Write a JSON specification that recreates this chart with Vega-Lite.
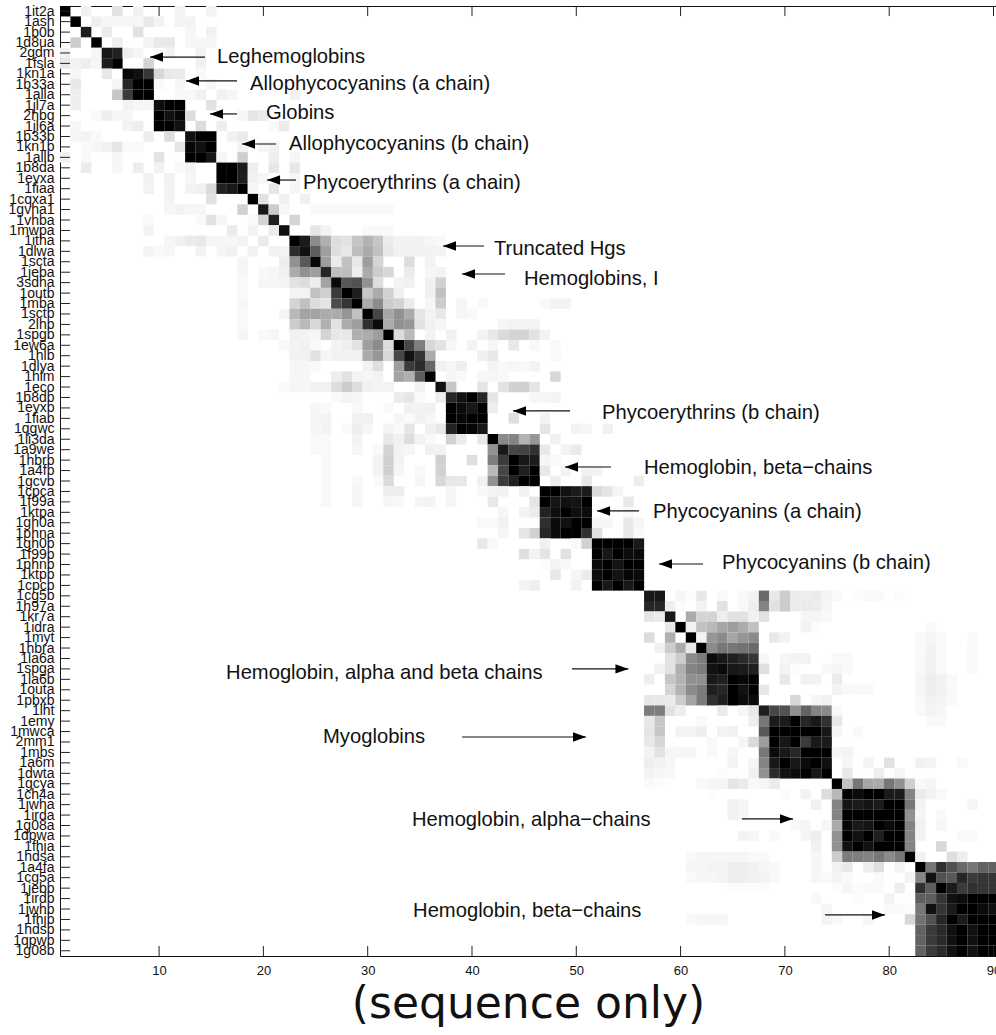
{
"$schema":"https://vega.github.io/schema/vega-lite/v6.json",
"width":936,"height":950,
"autosize":"none",
"padding":{"left":60,"top":6,"right":0,"bottom":79},
"background":"white",
"config":{"view":{"stroke":null},"axis":{"grid":false,"domainColor":"#111","tickColor":"#111","labelColor":"#111","labelFont":"Liberation Sans","zindex":1}},
"resolve":{"axis":{"x":"independent","y":"independent"}},
"layer":[
{"data":{"values":[
{"r":1,"c":1,"v":100},{"r":1,"c":3,"v":5},{"r":1,"c":6,"v":10},{"r":1,"c":8,"v":5},{"r":1,"c":12,"v":4},{"r":1,"c":15,"v":4},
{"r":2,"c":2,"v":100},{"r":2,"c":4,"v":6},{"r":2,"c":5,"v":3},{"r":2,"c":6,"v":3},{"r":2,"c":7,"v":3},{"r":2,"c":8,"v":3},{"r":2,"c":9,"v":8},{"r":2,"c":10,"v":4},{"r":2,"c":12,"v":4},{"r":2,"c":13,"v":4},
{"r":3,"c":3,"v":90},{"r":3,"c":5,"v":7},{"r":3,"c":8,"v":10},{"r":3,"c":13,"v":3},{"r":3,"c":15,"v":5},
{"r":4,"c":2,"v":18},{"r":4,"c":4,"v":100},{"r":4,"c":6,"v":6},{"r":4,"c":9,"v":4},{"r":4,"c":10,"v":8},{"r":4,"c":11,"v":8},{"r":4,"c":13,"v":3},{"r":4,"c":14,"v":3},{"r":4,"c":15,"v":3},
{"r":5,"c":1,"v":5},{"r":5,"c":4,"v":3},{"r":5,"c":5,"v":92},{"r":5,"c":6,"v":87},{"r":5,"c":7,"v":6},{"r":5,"c":8,"v":3},{"r":5,"c":11,"v":4},{"r":5,"c":14,"v":4},
{"r":6,"c":1,"v":8},{"r":6,"c":2,"v":4},{"r":6,"c":3,"v":6},{"r":6,"c":4,"v":3},{"r":6,"c":5,"v":90},{"r":6,"c":6,"v":100},{"r":6,"c":9,"v":15},{"r":6,"c":14,"v":5},
{"r":7,"c":2,"v":3},{"r":7,"c":5,"v":8},{"r":7,"c":7,"v":98},{"r":7,"c":8,"v":95},{"r":7,"c":9,"v":77},{"r":7,"c":10,"v":14},{"r":7,"c":11,"v":8},{"r":7,"c":12,"v":7},{"r":7,"c":14,"v":2},
{"r":8,"c":2,"v":8},{"r":8,"c":6,"v":3},{"r":8,"c":7,"v":85},{"r":8,"c":8,"v":100},{"r":8,"c":9,"v":100},{"r":8,"c":10,"v":2},{"r":8,"c":12,"v":3},{"r":8,"c":15,"v":3},
{"r":9,"c":2,"v":6},{"r":9,"c":6,"v":20},{"r":9,"c":7,"v":75},{"r":9,"c":8,"v":100},{"r":9,"c":9,"v":100},{"r":9,"c":12,"v":2},{"r":9,"c":13,"v":2},{"r":9,"c":14,"v":5},{"r":9,"c":16,"v":5},{"r":9,"c":17,"v":3},{"r":9,"c":23,"v":5},
{"r":10,"c":2,"v":6},{"r":10,"c":7,"v":4},{"r":10,"c":8,"v":3},{"r":10,"c":9,"v":3},{"r":10,"c":10,"v":96},{"r":10,"c":11,"v":100},{"r":10,"c":12,"v":100},{"r":10,"c":15,"v":10},
{"r":11,"c":4,"v":2},{"r":11,"c":5,"v":6},{"r":11,"c":6,"v":3},{"r":11,"c":7,"v":3},{"r":11,"c":10,"v":100},{"r":11,"c":11,"v":95},{"r":11,"c":12,"v":98},{"r":11,"c":13,"v":12},{"r":11,"c":18,"v":3},{"r":11,"c":19,"v":9},{"r":11,"c":20,"v":7},
{"r":12,"c":2,"v":3},{"r":12,"c":7,"v":4},{"r":12,"c":8,"v":6},{"r":12,"c":10,"v":100},{"r":12,"c":11,"v":100},{"r":12,"c":12,"v":95},{"r":12,"c":14,"v":12},{"r":12,"c":16,"v":6},{"r":12,"c":21,"v":2},{"r":12,"c":22,"v":7},
{"r":13,"c":2,"v":3},{"r":13,"c":3,"v":4},{"r":13,"c":4,"v":2},{"r":13,"c":9,"v":6},{"r":13,"c":11,"v":12},{"r":13,"c":13,"v":95},{"r":13,"c":14,"v":100},{"r":13,"c":15,"v":100},{"r":13,"c":17,"v":5},{"r":13,"c":18,"v":7},
{"r":14,"c":3,"v":2},{"r":14,"c":4,"v":3},{"r":14,"c":5,"v":5},{"r":14,"c":6,"v":9},{"r":14,"c":7,"v":2},{"r":14,"c":8,"v":2},{"r":14,"c":12,"v":9},{"r":14,"c":13,"v":98},{"r":14,"c":14,"v":95},{"r":14,"c":15,"v":100},{"r":14,"c":18,"v":4},{"r":14,"c":20,"v":3},{"r":14,"c":21,"v":5},
{"r":15,"c":1,"v":5},{"r":15,"c":3,"v":2},{"r":15,"c":6,"v":3},{"r":15,"c":10,"v":10},{"r":15,"c":13,"v":100},{"r":15,"c":14,"v":100},{"r":15,"c":15,"v":93},{"r":15,"c":16,"v":3},{"r":15,"c":18,"v":17},{"r":15,"c":21,"v":6},{"r":15,"c":23,"v":3},
{"r":16,"c":3,"v":7},{"r":16,"c":6,"v":3},{"r":16,"c":8,"v":6},{"r":16,"c":10,"v":5},{"r":16,"c":12,"v":2},{"r":16,"c":13,"v":4},{"r":16,"c":16,"v":100},{"r":16,"c":17,"v":100},{"r":16,"c":18,"v":90},{"r":16,"c":19,"v":6},{"r":16,"c":21,"v":8},{"r":16,"c":23,"v":8},
{"r":17,"c":9,"v":5},{"r":17,"c":11,"v":5},{"r":17,"c":13,"v":3},{"r":17,"c":16,"v":100},{"r":17,"c":17,"v":100},{"r":17,"c":18,"v":88},{"r":17,"c":19,"v":5},{"r":17,"c":20,"v":3},{"r":17,"c":23,"v":3},
{"r":18,"c":9,"v":4},{"r":18,"c":11,"v":4},{"r":18,"c":13,"v":4},{"r":18,"c":14,"v":5},{"r":18,"c":15,"v":13},{"r":18,"c":16,"v":87},{"r":18,"c":17,"v":92},{"r":18,"c":18,"v":100},{"r":18,"c":19,"v":3},{"r":18,"c":21,"v":9},{"r":18,"c":23,"v":3},
{"r":19,"c":11,"v":4},{"r":19,"c":15,"v":10},{"r":19,"c":19,"v":100},{"r":19,"c":20,"v":10},{"r":19,"c":22,"v":5},{"r":19,"c":24,"v":5},
{"r":20,"c":11,"v":3},{"r":20,"c":12,"v":4},{"r":20,"c":13,"v":3},{"r":20,"c":14,"v":3},{"r":20,"c":18,"v":16},{"r":20,"c":20,"v":92},{"r":20,"c":21,"v":18},{"r":20,"c":22,"v":3},{"r":20,"c":25,"v":2},{"r":20,"c":26,"v":2},{"r":20,"c":27,"v":2},{"r":20,"c":28,"v":2},{"r":20,"c":29,"v":2},{"r":20,"c":30,"v":2},{"r":20,"c":31,"v":2},{"r":20,"c":32,"v":2},
{"r":21,"c":9,"v":2},{"r":21,"c":14,"v":2},{"r":21,"c":15,"v":10},{"r":21,"c":16,"v":3},{"r":21,"c":19,"v":2},{"r":21,"c":20,"v":15},{"r":21,"c":21,"v":88},{"r":21,"c":23,"v":15},
{"r":22,"c":9,"v":4},{"r":22,"c":17,"v":7},{"r":22,"c":19,"v":4},{"r":22,"c":21,"v":7},{"r":22,"c":22,"v":95},{"r":22,"c":25,"v":9},{"r":22,"c":26,"v":4},{"r":22,"c":30,"v":2},{"r":22,"c":31,"v":2},{"r":22,"c":32,"v":2},
{"r":23,"c":11,"v":3},{"r":23,"c":12,"v":5},{"r":23,"c":13,"v":7},{"r":23,"c":14,"v":8},{"r":23,"c":15,"v":3},{"r":23,"c":16,"v":3},{"r":23,"c":17,"v":3},{"r":23,"c":18,"v":4},{"r":23,"c":20,"v":7},
{"r":23,"c":23,"v":100},{"r":23,"c":24,"v":90},{"r":23,"c":25,"v":42},{"r":23,"c":26,"v":28},{"r":23,"c":27,"v":12},{"r":23,"c":28,"v":10},{"r":23,"c":29,"v":20},{"r":23,"c":30,"v":27},{"r":23,"c":31,"v":20},{"r":23,"c":32,"v":7},{"r":23,"c":33,"v":4},{"r":23,"c":34,"v":4},{"r":23,"c":35,"v":4},{"r":23,"c":36,"v":3},{"r":23,"c":37,"v":2},
{"r":24,"c":9,"v":4},{"r":24,"c":10,"v":2},{"r":24,"c":11,"v":3},{"r":24,"c":14,"v":4},{"r":24,"c":16,"v":3},{"r":24,"c":17,"v":5},{"r":24,"c":19,"v":5},{"r":24,"c":21,"v":5},{"r":24,"c":22,"v":4},{"r":24,"c":23,"v":82},{"r":24,"c":24,"v":95},{"r":24,"c":25,"v":60},{"r":24,"c":26,"v":35},{"r":24,"c":27,"v":12},{"r":24,"c":28,"v":8},{"r":24,"c":29,"v":23},{"r":24,"c":30,"v":30},{"r":24,"c":31,"v":22},{"r":24,"c":32,"v":8},{"r":24,"c":33,"v":5},{"r":24,"c":34,"v":5},{"r":24,"c":35,"v":5},{"r":24,"c":36,"v":4},{"r":24,"c":37,"v":4},
{"r":25,"c":18,"v":3},{"r":25,"c":22,"v":6},{"r":25,"c":23,"v":40},{"r":25,"c":24,"v":62},{"r":25,"c":25,"v":98},{"r":25,"c":26,"v":35},{"r":25,"c":27,"v":7},{"r":25,"c":28,"v":22},{"r":25,"c":29,"v":8},{"r":25,"c":30,"v":35},{"r":25,"c":31,"v":15},{"r":25,"c":34,"v":12},{"r":25,"c":36,"v":4},
{"r":26,"c":18,"v":3},{"r":26,"c":20,"v":2},{"r":26,"c":21,"v":3},{"r":26,"c":22,"v":5},{"r":26,"c":23,"v":30},{"r":26,"c":24,"v":40},{"r":26,"c":25,"v":35},{"r":26,"c":26,"v":85},{"r":26,"c":27,"v":23},{"r":26,"c":28,"v":23},{"r":26,"c":29,"v":6},{"r":26,"c":30,"v":30},{"r":26,"c":31,"v":18},{"r":26,"c":32,"v":14},{"r":26,"c":34,"v":7},{"r":26,"c":36,"v":3},{"r":26,"c":37,"v":4},
{"r":27,"c":18,"v":2},{"r":27,"c":20,"v":3},{"r":27,"c":21,"v":3},{"r":27,"c":22,"v":4},{"r":27,"c":23,"v":10},{"r":27,"c":24,"v":12},{"r":27,"c":25,"v":6},{"r":27,"c":26,"v":33},{"r":27,"c":27,"v":97},{"r":27,"c":28,"v":62},{"r":27,"c":29,"v":65},{"r":27,"c":30,"v":40},{"r":27,"c":31,"v":12},{"r":27,"c":33,"v":4},{"r":27,"c":34,"v":5},{"r":27,"c":36,"v":5},{"r":27,"c":37,"v":16},
{"r":28,"c":18,"v":2},{"r":28,"c":23,"v":4},{"r":28,"c":24,"v":4},{"r":28,"c":25,"v":22},{"r":28,"c":26,"v":16},{"r":28,"c":27,"v":75},{"r":28,"c":28,"v":100},{"r":28,"c":29,"v":88},{"r":28,"c":30,"v":20},{"r":28,"c":31,"v":30},{"r":28,"c":32,"v":16},{"r":28,"c":33,"v":5},{"r":28,"c":36,"v":5},{"r":28,"c":37,"v":22},
{"r":29,"c":18,"v":3},{"r":29,"c":23,"v":15},{"r":29,"c":24,"v":22},{"r":29,"c":25,"v":12},{"r":29,"c":26,"v":9},{"r":29,"c":27,"v":68},{"r":29,"c":28,"v":78},{"r":29,"c":29,"v":100},{"r":29,"c":30,"v":30},{"r":29,"c":31,"v":42},{"r":29,"c":32,"v":18},{"r":29,"c":33,"v":15},{"r":29,"c":34,"v":7},{"r":29,"c":36,"v":3},{"r":29,"c":37,"v":18},{"r":29,"c":39,"v":3},{"r":29,"c":41,"v":2},{"r":29,"c":47,"v":2},{"r":29,"c":48,"v":4},{"r":29,"c":49,"v":4},
{"r":30,"c":18,"v":2},{"r":30,"c":22,"v":3},{"r":30,"c":23,"v":25},{"r":30,"c":24,"v":33},{"r":30,"c":25,"v":33},{"r":30,"c":26,"v":30},{"r":30,"c":27,"v":30},{"r":30,"c":28,"v":38},{"r":30,"c":29,"v":22},{"r":30,"c":30,"v":100},{"r":30,"c":31,"v":70},{"r":30,"c":32,"v":32},{"r":30,"c":33,"v":40},{"r":30,"c":34,"v":30},{"r":30,"c":35,"v":9},{"r":30,"c":36,"v":4},{"r":30,"c":37,"v":8},{"r":30,"c":39,"v":3},{"r":30,"c":40,"v":2},
{"r":31,"c":18,"v":2},{"r":31,"c":23,"v":18},{"r":31,"c":24,"v":25},{"r":31,"c":25,"v":14},{"r":31,"c":26,"v":28},{"r":31,"c":27,"v":10},{"r":31,"c":28,"v":30},{"r":31,"c":29,"v":35},{"r":31,"c":30,"v":80},{"r":31,"c":31,"v":97},{"r":31,"c":32,"v":30},{"r":31,"c":33,"v":40},{"r":31,"c":34,"v":38},{"r":31,"c":35,"v":10},{"r":31,"c":36,"v":5},{"r":31,"c":37,"v":3},{"r":31,"c":43,"v":3},{"r":31,"c":44,"v":4},{"r":31,"c":45,"v":4},{"r":31,"c":46,"v":4},
{"r":32,"c":18,"v":3},{"r":32,"c":20,"v":2},{"r":32,"c":21,"v":3},{"r":32,"c":23,"v":5},{"r":32,"c":24,"v":4},{"r":32,"c":25,"v":3},{"r":32,"c":26,"v":15},{"r":32,"c":27,"v":8},{"r":32,"c":28,"v":8},{"r":32,"c":29,"v":28},{"r":32,"c":30,"v":30},{"r":32,"c":31,"v":35},{"r":32,"c":32,"v":100},{"r":32,"c":33,"v":12},{"r":32,"c":34,"v":24},{"r":32,"c":36,"v":4},{"r":32,"c":38,"v":5},{"r":32,"c":41,"v":4},{"r":32,"c":42,"v":8},{"r":32,"c":43,"v":13},{"r":32,"c":44,"v":15},{"r":32,"c":45,"v":15},{"r":32,"c":46,"v":10},{"r":32,"c":47,"v":4},
{"r":33,"c":22,"v":2},{"r":33,"c":23,"v":4},{"r":33,"c":24,"v":5},{"r":33,"c":25,"v":2},{"r":33,"c":27,"v":4},{"r":33,"c":28,"v":6},{"r":33,"c":29,"v":10},{"r":33,"c":30,"v":35},{"r":33,"c":31,"v":42},{"r":33,"c":32,"v":12},{"r":33,"c":33,"v":100},{"r":33,"c":34,"v":70},{"r":33,"c":35,"v":47},{"r":33,"c":36,"v":14},{"r":33,"c":37,"v":10},{"r":33,"c":38,"v":3},{"r":33,"c":40,"v":4},{"r":33,"c":42,"v":3},{"r":33,"c":44,"v":8},{"r":33,"c":46,"v":2},{"r":33,"c":48,"v":2},
{"r":34,"c":23,"v":5},{"r":34,"c":24,"v":5},{"r":34,"c":25,"v":10},{"r":34,"c":26,"v":3},{"r":34,"c":27,"v":5},{"r":34,"c":28,"v":5},{"r":34,"c":29,"v":5},{"r":34,"c":30,"v":30},{"r":34,"c":31,"v":38},{"r":34,"c":32,"v":14},{"r":34,"c":33,"v":70},{"r":34,"c":34,"v":95},{"r":34,"c":35,"v":78},{"r":34,"c":36,"v":30},{"r":34,"c":41,"v":5},{"r":34,"c":42,"v":8},{"r":34,"c":48,"v":2},
{"r":35,"c":23,"v":3},{"r":35,"c":24,"v":3},{"r":35,"c":25,"v":2},{"r":35,"c":30,"v":5},{"r":35,"c":31,"v":11},{"r":35,"c":33,"v":35},{"r":35,"c":34,"v":75},{"r":35,"c":35,"v":82},{"r":35,"c":36,"v":57},{"r":35,"c":37,"v":5},{"r":35,"c":38,"v":3},{"r":35,"c":39,"v":6},{"r":35,"c":42,"v":4},{"r":35,"c":43,"v":2},{"r":35,"c":44,"v":3},{"r":35,"c":45,"v":2},{"r":35,"c":46,"v":4},
{"r":36,"c":23,"v":3},{"r":36,"c":24,"v":3},{"r":36,"c":27,"v":6},{"r":36,"c":28,"v":10},{"r":36,"c":29,"v":4},{"r":36,"c":30,"v":3},{"r":36,"c":31,"v":4},{"r":36,"c":33,"v":33},{"r":36,"c":34,"v":28},{"r":36,"c":35,"v":60},{"r":36,"c":36,"v":100},{"r":36,"c":38,"v":3},{"r":36,"c":39,"v":2},{"r":36,"c":41,"v":3},{"r":36,"c":42,"v":3},{"r":36,"c":43,"v":2},{"r":36,"c":48,"v":14},
{"r":37,"c":22,"v":2},{"r":37,"c":23,"v":3},{"r":37,"c":24,"v":3},{"r":37,"c":25,"v":5},{"r":37,"c":26,"v":5},{"r":37,"c":27,"v":12},{"r":37,"c":28,"v":18},{"r":37,"c":29,"v":12},{"r":37,"c":30,"v":5},{"r":37,"c":31,"v":4},{"r":37,"c":32,"v":4},{"r":37,"c":35,"v":5},{"r":37,"c":37,"v":95},{"r":37,"c":38,"v":20},{"r":37,"c":41,"v":9},{"r":37,"c":43,"v":10},{"r":37,"c":44,"v":16},{"r":37,"c":45,"v":17},{"r":37,"c":46,"v":9},
{"r":38,"c":27,"v":2},{"r":38,"c":28,"v":4},{"r":38,"c":29,"v":3},{"r":38,"c":33,"v":7},{"r":38,"c":34,"v":9},{"r":38,"c":35,"v":2},{"r":38,"c":37,"v":6},{"r":38,"c":38,"v":85},{"r":38,"c":39,"v":95},{"r":38,"c":40,"v":100},{"r":38,"c":41,"v":85},{"r":38,"c":42,"v":9},{"r":38,"c":46,"v":3},{"r":38,"c":47,"v":3},{"r":38,"c":48,"v":4},
{"r":39,"c":25,"v":3},{"r":39,"c":26,"v":2},{"r":39,"c":29,"v":2},{"r":39,"c":32,"v":2},{"r":39,"c":34,"v":5},{"r":39,"c":35,"v":4},{"r":39,"c":36,"v":5},{"r":39,"c":38,"v":100},{"r":39,"c":39,"v":97},{"r":39,"c":40,"v":92},{"r":39,"c":41,"v":100},{"r":39,"c":42,"v":6},
{"r":40,"c":25,"v":3},{"r":40,"c":26,"v":4},{"r":40,"c":29,"v":5},{"r":40,"c":30,"v":5},{"r":40,"c":33,"v":3},{"r":40,"c":34,"v":2},{"r":40,"c":35,"v":5},{"r":40,"c":36,"v":3},{"r":40,"c":38,"v":100},{"r":40,"c":39,"v":98},{"r":40,"c":40,"v":100},{"r":40,"c":41,"v":100},{"r":40,"c":44,"v":11},{"r":40,"c":47,"v":4},
{"r":41,"c":25,"v":3},{"r":41,"c":26,"v":4},{"r":41,"c":28,"v":2},{"r":41,"c":29,"v":6},{"r":41,"c":30,"v":3},{"r":41,"c":32,"v":4},{"r":41,"c":33,"v":2},{"r":41,"c":34,"v":9},{"r":41,"c":36,"v":5},{"r":41,"c":37,"v":8},{"r":41,"c":38,"v":87},{"r":41,"c":39,"v":100},{"r":41,"c":40,"v":98},{"r":41,"c":41,"v":92},{"r":41,"c":47,"v":9},{"r":41,"c":50,"v":4},{"r":41,"c":51,"v":3},{"r":41,"c":53,"v":5},
{"r":42,"c":25,"v":2},{"r":42,"c":26,"v":2},{"r":42,"c":29,"v":4},{"r":42,"c":32,"v":8},{"r":42,"c":33,"v":5},{"r":42,"c":34,"v":12},{"r":42,"c":35,"v":4},{"r":42,"c":36,"v":2},{"r":42,"c":38,"v":16},{"r":42,"c":39,"v":7},{"r":42,"c":41,"v":8},{"r":42,"c":42,"v":100},{"r":42,"c":43,"v":43},{"r":42,"c":44,"v":45},{"r":42,"c":45,"v":27},{"r":42,"c":46,"v":38},{"r":42,"c":48,"v":5},
{"r":43,"c":25,"v":2},{"r":43,"c":26,"v":2},{"r":43,"c":29,"v":3},{"r":43,"c":31,"v":2},{"r":43,"c":32,"v":15},{"r":43,"c":33,"v":4},{"r":43,"c":34,"v":3},{"r":43,"c":36,"v":5},{"r":43,"c":37,"v":4},{"r":43,"c":42,"v":40},{"r":43,"c":43,"v":92},{"r":43,"c":44,"v":70},{"r":43,"c":45,"v":72},{"r":43,"c":46,"v":80},{"r":43,"c":47,"v":8},{"r":43,"c":49,"v":4},{"r":43,"c":50,"v":7},
{"r":44,"c":26,"v":2},{"r":44,"c":31,"v":4},{"r":44,"c":32,"v":17},{"r":44,"c":33,"v":4},{"r":44,"c":37,"v":16},{"r":44,"c":40,"v":11},{"r":44,"c":42,"v":47},{"r":44,"c":43,"v":75},{"r":44,"c":44,"v":100},{"r":44,"c":45,"v":92},{"r":44,"c":46,"v":90},{"r":44,"c":47,"v":3},{"r":44,"c":48,"v":2},
{"r":45,"c":26,"v":2},{"r":45,"c":31,"v":4},{"r":45,"c":32,"v":17},{"r":45,"c":33,"v":3},{"r":45,"c":35,"v":2},{"r":45,"c":37,"v":16},{"r":45,"c":42,"v":25},{"r":45,"c":43,"v":70},{"r":45,"c":44,"v":100},{"r":45,"c":45,"v":88},{"r":45,"c":46,"v":100},{"r":45,"c":47,"v":8},{"r":45,"c":49,"v":4},{"r":45,"c":51,"v":5},{"r":45,"c":52,"v":4},
{"r":46,"c":26,"v":2},{"r":46,"c":29,"v":2},{"r":46,"c":31,"v":2},{"r":46,"c":32,"v":13},{"r":46,"c":35,"v":3},{"r":46,"c":37,"v":14},{"r":46,"c":38,"v":8},{"r":46,"c":39,"v":8},{"r":46,"c":41,"v":5},{"r":46,"c":42,"v":40},{"r":46,"c":43,"v":75},{"r":46,"c":44,"v":88},{"r":46,"c":45,"v":100},{"r":46,"c":46,"v":100},{"r":46,"c":48,"v":6},{"r":46,"c":51,"v":8},{"r":46,"c":56,"v":6},
{"r":47,"c":26,"v":2},{"r":47,"c":29,"v":3},{"r":47,"c":32,"v":6},{"r":47,"c":33,"v":6},{"r":47,"c":38,"v":3},{"r":47,"c":41,"v":2},{"r":47,"c":42,"v":4},{"r":47,"c":43,"v":5},{"r":47,"c":45,"v":5},{"r":47,"c":47,"v":100},{"r":47,"c":48,"v":100},{"r":47,"c":49,"v":95},{"r":47,"c":50,"v":90},{"r":47,"c":51,"v":90},{"r":47,"c":52,"v":13},{"r":47,"c":53,"v":9},{"r":47,"c":54,"v":3},
{"r":48,"c":26,"v":2},{"r":48,"c":29,"v":3},{"r":48,"c":32,"v":3},{"r":48,"c":33,"v":2},{"r":48,"c":35,"v":3},{"r":48,"c":36,"v":4},{"r":48,"c":38,"v":3},{"r":48,"c":42,"v":8},{"r":48,"c":46,"v":9},{"r":48,"c":47,"v":100},{"r":48,"c":48,"v":93},{"r":48,"c":49,"v":95},{"r":48,"c":50,"v":94},{"r":48,"c":51,"v":100},{"r":48,"c":55,"v":8},
{"r":49,"c":43,"v":3},{"r":49,"c":45,"v":4},{"r":49,"c":46,"v":7},{"r":49,"c":47,"v":87},{"r":49,"c":48,"v":96},{"r":49,"c":49,"v":100},{"r":49,"c":50,"v":96},{"r":49,"c":51,"v":97},{"r":49,"c":55,"v":2},
{"r":50,"c":41,"v":2},{"r":50,"c":42,"v":2},{"r":50,"c":43,"v":5},{"r":50,"c":47,"v":80},{"r":50,"c":48,"v":97},{"r":50,"c":49,"v":95},{"r":50,"c":50,"v":100},{"r":50,"c":51,"v":100},{"r":50,"c":52,"v":3},{"r":50,"c":53,"v":3},{"r":50,"c":55,"v":8},{"r":50,"c":56,"v":3},
{"r":51,"c":43,"v":3},{"r":51,"c":45,"v":9},{"r":51,"c":46,"v":16},{"r":51,"c":47,"v":85},{"r":51,"c":48,"v":97},{"r":51,"c":49,"v":100},{"r":51,"c":50,"v":100},{"r":51,"c":51,"v":80},{"r":51,"c":52,"v":11},{"r":51,"c":55,"v":8},{"r":51,"c":56,"v":2},
{"r":52,"c":41,"v":8},{"r":52,"c":42,"v":2},{"r":52,"c":47,"v":5},{"r":52,"c":50,"v":2},{"r":52,"c":51,"v":16},{"r":52,"c":52,"v":100},{"r":52,"c":53,"v":100},{"r":52,"c":54,"v":100},{"r":52,"c":55,"v":100},{"r":52,"c":56,"v":92},
{"r":53,"c":45,"v":11},{"r":53,"c":46,"v":4},{"r":53,"c":47,"v":9},{"r":53,"c":49,"v":10},{"r":53,"c":52,"v":100},{"r":53,"c":53,"v":92},{"r":53,"c":54,"v":100},{"r":53,"c":55,"v":97},{"r":53,"c":56,"v":97},
{"r":54,"c":47,"v":1},{"r":54,"c":48,"v":4},{"r":54,"c":49,"v":2},{"r":54,"c":52,"v":97},{"r":54,"c":53,"v":100},{"r":54,"c":54,"v":94},{"r":54,"c":55,"v":100},{"r":54,"c":56,"v":100},
{"r":55,"c":48,"v":8},{"r":55,"c":50,"v":3},{"r":55,"c":51,"v":7},{"r":55,"c":52,"v":97},{"r":55,"c":53,"v":100},{"r":55,"c":54,"v":94},{"r":55,"c":55,"v":98},{"r":55,"c":56,"v":97},
{"r":56,"c":45,"v":4},{"r":56,"c":46,"v":6},{"r":56,"c":50,"v":4},{"r":56,"c":52,"v":100},{"r":56,"c":53,"v":92},{"r":56,"c":54,"v":100},{"r":56,"c":55,"v":92},{"r":56,"c":56,"v":100},
{"r":57,"c":57,"v":92},{"r":57,"c":58,"v":92},{"r":57,"c":60,"v":3},{"r":57,"c":61,"v":1},{"r":57,"c":62,"v":8},{"r":57,"c":64,"v":2},{"r":57,"c":66,"v":2},{"r":57,"c":67,"v":4},{"r":57,"c":68,"v":55},{"r":57,"c":69,"v":8},{"r":57,"c":70,"v":18},{"r":57,"c":71,"v":7},{"r":57,"c":72,"v":6},{"r":57,"c":73,"v":7},{"r":57,"c":74,"v":4},{"r":57,"c":75,"v":2},{"r":57,"c":77,"v":1},{"r":57,"c":78,"v":2},{"r":57,"c":79,"v":2},{"r":57,"c":81,"v":1},
{"r":58,"c":57,"v":85},{"r":58,"c":58,"v":85},{"r":58,"c":59,"v":6},{"r":58,"c":60,"v":1},{"r":58,"c":62,"v":4},{"r":58,"c":64,"v":10},{"r":58,"c":66,"v":2},{"r":58,"c":67,"v":6},{"r":58,"c":68,"v":45},{"r":58,"c":69,"v":10},{"r":58,"c":70,"v":18},{"r":58,"c":71,"v":7},{"r":58,"c":72,"v":7},{"r":58,"c":73,"v":6},{"r":58,"c":74,"v":3},
{"r":59,"c":57,"v":9},{"r":59,"c":58,"v":7},{"r":59,"c":59,"v":92},{"r":59,"c":61,"v":30},{"r":59,"c":62,"v":15},{"r":59,"c":63,"v":15},{"r":59,"c":64,"v":6},{"r":59,"c":65,"v":10},{"r":59,"c":66,"v":10},{"r":59,"c":67,"v":5},{"r":59,"c":68,"v":10},{"r":59,"c":72,"v":3},{"r":59,"c":73,"v":3},{"r":59,"c":74,"v":2},
{"r":60,"c":59,"v":8},{"r":60,"c":60,"v":100},{"r":60,"c":61,"v":5},{"r":60,"c":62,"v":22},{"r":60,"c":63,"v":25},{"r":60,"c":64,"v":32},{"r":60,"c":65,"v":35},{"r":60,"c":66,"v":30},{"r":60,"c":67,"v":22},{"r":60,"c":72,"v":4},{"r":60,"c":73,"v":1},{"r":60,"c":84,"v":2},
{"r":61,"c":57,"v":12},{"r":61,"c":59,"v":28},{"r":61,"c":61,"v":100},{"r":61,"c":62,"v":4},{"r":61,"c":63,"v":38},{"r":61,"c":64,"v":42},{"r":61,"c":65,"v":32},{"r":61,"c":66,"v":38},{"r":61,"c":67,"v":42},{"r":61,"c":69,"v":8},{"r":61,"c":70,"v":4},{"r":61,"c":83,"v":2},{"r":61,"c":84,"v":3},{"r":61,"c":85,"v":2},{"r":61,"c":88,"v":2},
{"r":62,"c":58,"v":5},{"r":62,"c":59,"v":18},{"r":62,"c":60,"v":30},{"r":62,"c":61,"v":8},{"r":62,"c":62,"v":100},{"r":62,"c":63,"v":42},{"r":62,"c":64,"v":50},{"r":62,"c":65,"v":50},{"r":62,"c":66,"v":52},{"r":62,"c":67,"v":55},{"r":62,"c":83,"v":2},{"r":62,"c":84,"v":4},{"r":62,"c":85,"v":2},{"r":62,"c":88,"v":2},
{"r":63,"c":59,"v":10},{"r":63,"c":60,"v":18},{"r":63,"c":61,"v":42},{"r":63,"c":62,"v":48},{"r":63,"c":63,"v":97},{"r":63,"c":64,"v":92},{"r":63,"c":65,"v":88},{"r":63,"c":66,"v":83},{"r":63,"c":67,"v":78},{"r":63,"c":68,"v":3},{"r":63,"c":70,"v":3},{"r":63,"c":71,"v":4},{"r":63,"c":72,"v":4},{"r":63,"c":75,"v":2},{"r":63,"c":76,"v":2},{"r":63,"c":83,"v":2},{"r":63,"c":84,"v":5},{"r":63,"c":85,"v":2},{"r":63,"c":88,"v":2},
{"r":64,"c":58,"v":5},{"r":64,"c":59,"v":10},{"r":64,"c":60,"v":28},{"r":64,"c":61,"v":45},{"r":64,"c":62,"v":48},{"r":64,"c":63,"v":95},{"r":64,"c":64,"v":97},{"r":64,"c":65,"v":92},{"r":64,"c":66,"v":90},{"r":64,"c":67,"v":88},{"r":64,"c":68,"v":11},{"r":64,"c":70,"v":4},{"r":64,"c":71,"v":1},{"r":64,"c":74,"v":2},{"r":64,"c":75,"v":3},{"r":64,"c":76,"v":2},{"r":64,"c":83,"v":2},{"r":64,"c":84,"v":5},{"r":64,"c":85,"v":2},{"r":64,"c":88,"v":2},
{"r":65,"c":57,"v":6},{"r":65,"c":59,"v":20},{"r":65,"c":60,"v":27},{"r":65,"c":61,"v":40},{"r":65,"c":62,"v":40},{"r":65,"c":63,"v":92},{"r":65,"c":64,"v":88},{"r":65,"c":65,"v":100},{"r":65,"c":66,"v":98},{"r":65,"c":67,"v":100},{"r":65,"c":70,"v":8},{"r":65,"c":72,"v":5},{"r":65,"c":73,"v":4},{"r":65,"c":75,"v":7},{"r":65,"c":83,"v":3},{"r":65,"c":84,"v":6},{"r":65,"c":85,"v":5},{"r":65,"c":86,"v":2},
{"r":66,"c":59,"v":15},{"r":66,"c":60,"v":27},{"r":66,"c":61,"v":42},{"r":66,"c":62,"v":48},{"r":66,"c":63,"v":88},{"r":66,"c":64,"v":85},{"r":66,"c":65,"v":100},{"r":66,"c":66,"v":95},{"r":66,"c":67,"v":100},{"r":66,"c":68,"v":8},{"r":66,"c":75,"v":4},{"r":66,"c":76,"v":2},{"r":66,"c":77,"v":2},{"r":66,"c":78,"v":2},{"r":66,"c":83,"v":3},{"r":66,"c":84,"v":6},{"r":66,"c":85,"v":5},{"r":66,"c":86,"v":2},
{"r":67,"c":57,"v":8},{"r":67,"c":58,"v":8},{"r":67,"c":59,"v":7},{"r":67,"c":60,"v":18},{"r":67,"c":61,"v":33},{"r":67,"c":62,"v":48},{"r":67,"c":63,"v":80},{"r":67,"c":64,"v":88},{"r":67,"c":65,"v":100},{"r":67,"c":66,"v":97},{"r":67,"c":67,"v":97},{"r":67,"c":71,"v":14},{"r":67,"c":73,"v":3},{"r":67,"c":74,"v":5},{"r":67,"c":83,"v":2},{"r":67,"c":84,"v":5},{"r":67,"c":85,"v":4},{"r":67,"c":86,"v":2},
{"r":68,"c":57,"v":48},{"r":68,"c":58,"v":48},{"r":68,"c":59,"v":10},{"r":68,"c":60,"v":6},{"r":68,"c":64,"v":7},{"r":68,"c":66,"v":3},{"r":68,"c":67,"v":8},{"r":68,"c":68,"v":88},{"r":68,"c":69,"v":70},{"r":68,"c":70,"v":65},{"r":68,"c":71,"v":40},{"r":68,"c":72,"v":58},{"r":68,"c":73,"v":45},{"r":68,"c":74,"v":42},{"r":68,"c":75,"v":2},{"r":68,"c":83,"v":2},{"r":68,"c":84,"v":4},{"r":68,"c":85,"v":3},
{"r":69,"c":57,"v":8},{"r":69,"c":58,"v":20},{"r":69,"c":62,"v":2},{"r":69,"c":67,"v":6},{"r":69,"c":68,"v":50},{"r":69,"c":69,"v":90},{"r":69,"c":70,"v":90},{"r":69,"c":71,"v":100},{"r":69,"c":72,"v":85},{"r":69,"c":73,"v":92},{"r":69,"c":74,"v":80},{"r":69,"c":75,"v":8},{"r":69,"c":84,"v":2},{"r":69,"c":85,"v":2},
{"r":70,"c":57,"v":9},{"r":70,"c":58,"v":20},{"r":70,"c":60,"v":4},{"r":70,"c":61,"v":4},{"r":70,"c":62,"v":6},{"r":70,"c":64,"v":4},{"r":70,"c":65,"v":5},{"r":70,"c":68,"v":62},{"r":70,"c":69,"v":100},{"r":70,"c":70,"v":100},{"r":70,"c":71,"v":100},{"r":70,"c":72,"v":100},{"r":70,"c":73,"v":100},{"r":70,"c":74,"v":92},{"r":70,"c":75,"v":3},{"r":70,"c":77,"v":2},
{"r":71,"c":57,"v":8},{"r":71,"c":58,"v":14},{"r":71,"c":63,"v":2},{"r":71,"c":66,"v":3},{"r":71,"c":67,"v":13},{"r":71,"c":68,"v":35},{"r":71,"c":69,"v":100},{"r":71,"c":70,"v":92},{"r":71,"c":71,"v":100},{"r":71,"c":72,"v":75},{"r":71,"c":73,"v":92},{"r":71,"c":74,"v":90},
{"r":72,"c":57,"v":4},{"r":72,"c":58,"v":10},{"r":72,"c":59,"v":3},{"r":72,"c":60,"v":3},{"r":72,"c":61,"v":3},{"r":72,"c":63,"v":2},{"r":72,"c":65,"v":3},{"r":72,"c":68,"v":50},{"r":72,"c":69,"v":97},{"r":72,"c":70,"v":92},{"r":72,"c":71,"v":85},{"r":72,"c":72,"v":100},{"r":72,"c":73,"v":100},{"r":72,"c":74,"v":100},{"r":72,"c":75,"v":3},{"r":72,"c":76,"v":4},
{"r":73,"c":57,"v":6},{"r":73,"c":58,"v":5},{"r":73,"c":59,"v":3},{"r":73,"c":65,"v":4},{"r":73,"c":67,"v":3},{"r":73,"c":68,"v":45},{"r":73,"c":69,"v":92},{"r":73,"c":70,"v":100},{"r":73,"c":71,"v":92},{"r":73,"c":72,"v":97},{"r":73,"c":73,"v":100},{"r":73,"c":74,"v":95},{"r":73,"c":76,"v":3},{"r":73,"c":78,"v":4},{"r":73,"c":80,"v":10},{"r":73,"c":83,"v":5},{"r":73,"c":84,"v":4},{"r":73,"c":87,"v":2},
{"r":74,"c":57,"v":4},{"r":74,"c":58,"v":3},{"r":74,"c":59,"v":2},{"r":74,"c":64,"v":1},{"r":74,"c":67,"v":5},{"r":74,"c":68,"v":40},{"r":74,"c":69,"v":82},{"r":74,"c":70,"v":95},{"r":74,"c":71,"v":97},{"r":74,"c":72,"v":100},{"r":74,"c":73,"v":92},{"r":74,"c":74,"v":100},{"r":74,"c":76,"v":8},{"r":74,"c":79,"v":6},{"r":74,"c":81,"v":3},
{"r":75,"c":57,"v":2},{"r":75,"c":58,"v":1},{"r":75,"c":62,"v":2},{"r":75,"c":63,"v":3},{"r":75,"c":64,"v":3},{"r":75,"c":65,"v":9},{"r":75,"c":66,"v":7},{"r":75,"c":67,"v":2},{"r":75,"c":68,"v":3},{"r":75,"c":69,"v":7},{"r":75,"c":75,"v":100},{"r":75,"c":76,"v":22},{"r":75,"c":77,"v":50},{"r":75,"c":78,"v":32},{"r":75,"c":79,"v":30},{"r":75,"c":80,"v":50},{"r":75,"c":81,"v":40},{"r":75,"c":82,"v":17},{"r":75,"c":83,"v":2},{"r":75,"c":84,"v":3},
{"r":76,"c":63,"v":1},{"r":76,"c":70,"v":1},{"r":76,"c":72,"v":4},{"r":76,"c":74,"v":12},{"r":76,"c":75,"v":25},{"r":76,"c":76,"v":100},{"r":76,"c":77,"v":97},{"r":76,"c":78,"v":100},{"r":76,"c":79,"v":100},{"r":76,"c":80,"v":90},{"r":76,"c":81,"v":90},{"r":76,"c":82,"v":45},{"r":76,"c":83,"v":7},{"r":76,"c":84,"v":4},{"r":76,"c":85,"v":2},
{"r":77,"c":65,"v":5},{"r":77,"c":66,"v":3},{"r":77,"c":73,"v":5},{"r":77,"c":75,"v":45},{"r":77,"c":76,"v":93},{"r":77,"c":77,"v":90},{"r":77,"c":78,"v":93},{"r":77,"c":79,"v":90},{"r":77,"c":80,"v":100},{"r":77,"c":81,"v":100},{"r":77,"c":82,"v":50},{"r":77,"c":83,"v":4},{"r":77,"c":88,"v":3},
{"r":78,"c":65,"v":5},{"r":78,"c":66,"v":3},{"r":78,"c":75,"v":45},{"r":78,"c":76,"v":100},{"r":78,"c":77,"v":100},{"r":78,"c":78,"v":100},{"r":78,"c":79,"v":100},{"r":78,"c":80,"v":100},{"r":78,"c":81,"v":100},{"r":78,"c":82,"v":40},{"r":78,"c":83,"v":3},{"r":78,"c":85,"v":2},
{"r":79,"c":71,"v":2},{"r":79,"c":72,"v":3},{"r":79,"c":74,"v":3},{"r":79,"c":75,"v":30},{"r":79,"c":76,"v":98},{"r":79,"c":77,"v":92},{"r":79,"c":78,"v":93},{"r":79,"c":79,"v":100},{"r":79,"c":80,"v":97},{"r":79,"c":81,"v":100},{"r":79,"c":82,"v":45},{"r":79,"c":83,"v":5},{"r":79,"c":85,"v":3},
{"r":80,"c":66,"v":4},{"r":80,"c":67,"v":3},{"r":80,"c":69,"v":2},{"r":80,"c":72,"v":3},{"r":80,"c":73,"v":6},{"r":80,"c":75,"v":40},{"r":80,"c":76,"v":100},{"r":80,"c":77,"v":95},{"r":80,"c":78,"v":100},{"r":80,"c":79,"v":88},{"r":80,"c":80,"v":100},{"r":80,"c":81,"v":100},{"r":80,"c":82,"v":45},{"r":80,"c":83,"v":4},{"r":80,"c":87,"v":2},{"r":80,"c":88,"v":2},
{"r":81,"c":73,"v":5},{"r":81,"c":75,"v":40},{"r":81,"c":76,"v":95},{"r":81,"c":77,"v":100},{"r":81,"c":78,"v":95},{"r":81,"c":79,"v":100},{"r":81,"c":80,"v":100},{"r":81,"c":81,"v":100},{"r":81,"c":82,"v":45},{"r":81,"c":85,"v":14},
{"r":82,"c":61,"v":2},{"r":82,"c":62,"v":3},{"r":82,"c":63,"v":3},{"r":82,"c":64,"v":3},{"r":82,"c":65,"v":3},{"r":82,"c":66,"v":3},{"r":82,"c":67,"v":2},{"r":82,"c":68,"v":2},{"r":82,"c":73,"v":3},{"r":82,"c":75,"v":18},{"r":82,"c":76,"v":48},{"r":82,"c":77,"v":47},{"r":82,"c":78,"v":45},{"r":82,"c":79,"v":50},{"r":82,"c":80,"v":42},{"r":82,"c":81,"v":50},{"r":82,"c":82,"v":100},{"r":82,"c":83,"v":5},{"r":82,"c":86,"v":11},{"r":82,"c":87,"v":6},
{"r":83,"c":61,"v":3},{"r":83,"c":62,"v":3},{"r":83,"c":63,"v":4},{"r":83,"c":64,"v":4},{"r":83,"c":65,"v":6},{"r":83,"c":66,"v":6},{"r":83,"c":67,"v":5},{"r":83,"c":68,"v":3},{"r":83,"c":69,"v":2},{"r":83,"c":73,"v":3},{"r":83,"c":75,"v":5},{"r":83,"c":76,"v":8},{"r":83,"c":78,"v":6},{"r":83,"c":79,"v":11},{"r":83,"c":81,"v":4},{"r":83,"c":83,"v":100},{"r":83,"c":84,"v":50},{"r":83,"c":85,"v":80},{"r":83,"c":86,"v":65},{"r":83,"c":87,"v":55},{"r":83,"c":88,"v":50},{"r":83,"c":89,"v":58},{"r":83,"c":90,"v":58},
{"r":84,"c":61,"v":2},{"r":84,"c":62,"v":3},{"r":84,"c":63,"v":3},{"r":84,"c":64,"v":4},{"r":84,"c":65,"v":6},{"r":84,"c":66,"v":6},{"r":84,"c":67,"v":5},{"r":84,"c":68,"v":4},{"r":84,"c":69,"v":2},{"r":84,"c":73,"v":3},{"r":84,"c":74,"v":2},{"r":84,"c":75,"v":4},{"r":84,"c":76,"v":2},{"r":84,"c":79,"v":2},{"r":84,"c":82,"v":4},{"r":84,"c":83,"v":45},{"r":84,"c":84,"v":95},{"r":84,"c":85,"v":65},{"r":84,"c":86,"v":62},{"r":84,"c":87,"v":85},{"r":84,"c":88,"v":75},{"r":84,"c":89,"v":78},{"r":84,"c":90,"v":78},
{"r":85,"c":65,"v":1},{"r":85,"c":66,"v":1},{"r":85,"c":67,"v":1},{"r":85,"c":68,"v":1},{"r":85,"c":75,"v":1},{"r":85,"c":76,"v":3},{"r":85,"c":77,"v":1},{"r":85,"c":78,"v":2},{"r":85,"c":79,"v":2},{"r":85,"c":81,"v":6},{"r":85,"c":83,"v":80},{"r":85,"c":84,"v":60},{"r":85,"c":85,"v":100},{"r":85,"c":86,"v":90},{"r":85,"c":87,"v":75},{"r":85,"c":88,"v":80},{"r":85,"c":89,"v":78},{"r":85,"c":90,"v":78},
{"r":86,"c":73,"v":2},{"r":86,"c":77,"v":1},{"r":86,"c":80,"v":4},{"r":86,"c":83,"v":60},{"r":86,"c":84,"v":60},{"r":86,"c":85,"v":78},{"r":86,"c":86,"v":95},{"r":86,"c":87,"v":97},{"r":86,"c":88,"v":100},{"r":86,"c":89,"v":100},{"r":86,"c":90,"v":100},
{"r":87,"c":74,"v":3},{"r":87,"c":80,"v":2},{"r":87,"c":81,"v":2},{"r":87,"c":82,"v":1},{"r":87,"c":83,"v":50},{"r":87,"c":84,"v":95},{"r":87,"c":85,"v":78},{"r":87,"c":86,"v":90},{"r":87,"c":87,"v":100},{"r":87,"c":88,"v":100},{"r":87,"c":89,"v":97},{"r":87,"c":90,"v":95},
{"r":88,"c":61,"v":2},{"r":88,"c":62,"v":3},{"r":88,"c":63,"v":3},{"r":88,"c":64,"v":3},{"r":88,"c":74,"v":4},{"r":88,"c":75,"v":2},{"r":88,"c":78,"v":3},{"r":88,"c":82,"v":14},{"r":88,"c":83,"v":52},{"r":88,"c":84,"v":65},{"r":88,"c":85,"v":85},{"r":88,"c":86,"v":100},{"r":88,"c":87,"v":90},{"r":88,"c":88,"v":100},{"r":88,"c":89,"v":100},{"r":88,"c":90,"v":100},
{"r":89,"c":83,"v":58},{"r":89,"c":84,"v":75},{"r":89,"c":85,"v":83},{"r":89,"c":86,"v":95},{"r":89,"c":87,"v":100},{"r":89,"c":88,"v":95},{"r":89,"c":89,"v":100},{"r":89,"c":90,"v":100},
{"r":90,"c":83,"v":58},{"r":90,"c":84,"v":75},{"r":90,"c":85,"v":83},{"r":90,"c":86,"v":95},{"r":90,"c":87,"v":100},{"r":90,"c":88,"v":95},{"r":90,"c":89,"v":100},{"r":90,"c":90,"v":100},
{"r":91,"c":83,"v":58},{"r":91,"c":84,"v":75},{"r":91,"c":85,"v":83},{"r":91,"c":86,"v":95},{"r":91,"c":87,"v":100},{"r":91,"c":88,"v":95},{"r":91,"c":89,"v":100},{"r":91,"c":90,"v":100}
]},
"mark":{"type":"rect","width":10.5,"height":10.5,"clip":true,"strokeWidth":0},
"encoding":{
"x":{"field":"c","type":"quantitative","scale":{"domain":[0.5,90.24],"nice":false,"zero":false},"axis":{"orient":"bottom","values":[10,20,30,40,50,60,70,80,90],"ticks":false,"labelFontSize":13,"labelPadding":8,"labelOverlap":false,"labelFlush":false,"format":"d","title":"(sequence only)","titleFont":"DejaVu Sans","titleFontSize":44,"titleFontWeight":"normal","titleColor":"#111","titlePadding":5}},
"y":{"field":"r","type":"quantitative","scale":{"domain":[0.5,91.5],"nice":false,"zero":false,"reverse":true},"axis":{"orient":"left","values":[1,2,3,4,5,6,7,8,9,10,11,12,13,14,15,16,17,18,19,20,21,22,23,24,25,26,27,28,29,30,31,32,33,34,35,36,37,38,39,40,41,42,43,44,45,46,47,48,49,50,51,52,53,54,55,56,57,58,59,60,61,62,63,64,65,66,67,68,69,70,71,72,73,74,75,76,77,78,79,80,81,82,83,84,85,86,87,88,89,90,91],"ticks":false,"labelFontSize":14,"labelPadding":6,"labelOverlap":false,"labelFlush":false,"title":null,"labelExpr":"['1it2a','1ash','1b0b','1d8ua','2gdm','1fsla','1kn1a','1b33a','1alla','1jl7a','2hbg','1jl6a','1b33b','1kn1b','1allb','1b8da','1eyxa','1fiaa','1cqxa1','1gvha1','1vhba','1mwpa','1itha','1dlwa','1scta','1jeba','3sdha','1outb','1mba','1sctb','2lhb','1spgb','1ew6a','1hlb','1dlya','1hlm','1eco','1b8db','1eyxb','1fiab','1qgwc','1li3da','1a9we','1hbrb','1a4fb','1gcvb','1cpca','1f99a','1ktpa','1gh0a','1phna','1gh0b','1f99b','1phnb','1ktpb','1cpcb','1cg5b','1h97a','1kr7a','1idra','1myt','1hbra','1la6a','1spga','1la6b','1outa','1pbxb','1lht','1emy','1mwca','2mm1','1mbs','1a6m','1dwta','1gcya','1ch4a','1jwha','1irda','1g08a','1dpwa','1fhja','1hdsa','1a4fa','1cg5a','1jebb','1irdb','1jwhb','1fhjb','1hdsb','1qpwb','1g08b'][datum.value-1]"}},
"color":{"field":"v","type":"quantitative","scale":{"domain":[0,100],"range":["#ffffff","#000000"]},"legend":null}
}},
{"data":{"values":[{"t":10},{"t":20},{"t":30},{"t":40},{"t":50},{"t":60},{"t":70},{"t":80},{"t":90}]},
"layer":[
{"mark":{"type":"rule","color":"#222","strokeWidth":1},"encoding":{"x":{"field":"t","type":"quantitative","axis":null},"y":{"datum":0.5,"type":"quantitative","axis":null},"y2":{"datum":1.46}}},
{"mark":{"type":"rule","color":"#222","strokeWidth":1},"encoding":{"x":{"field":"t","type":"quantitative","axis":null},"y":{"datum":90.54,"type":"quantitative","axis":null},"y2":{"datum":91.5}}}
]},
{"data":{"values":[{"t":1},{"t":2},{"t":3},{"t":4},{"t":5},{"t":6},{"t":7},{"t":8},{"t":9},{"t":10},{"t":11},{"t":12},{"t":13},{"t":14},{"t":15},{"t":16},{"t":17},{"t":18},{"t":19},{"t":20},{"t":21},{"t":22},{"t":23},{"t":24},{"t":25},{"t":26},{"t":27},{"t":28},{"t":29},{"t":30},{"t":31},{"t":32},{"t":33},{"t":34},{"t":35},{"t":36},{"t":37},{"t":38},{"t":39},{"t":40},{"t":41},{"t":42},{"t":43},{"t":44},{"t":45},{"t":46},{"t":47},{"t":48},{"t":49},{"t":50},{"t":51},{"t":52},{"t":53},{"t":54},{"t":55},{"t":56},{"t":57},{"t":58},{"t":59},{"t":60},{"t":61},{"t":62},{"t":63},{"t":64},{"t":65},{"t":66},{"t":67},{"t":68},{"t":69},{"t":70},{"t":71},{"t":72},{"t":73},{"t":74},{"t":75},{"t":76},{"t":77},{"t":78},{"t":79},{"t":80},{"t":81},{"t":82},{"t":83},{"t":84},{"t":85},{"t":86},{"t":87},{"t":88},{"t":89},{"t":90},{"t":91}]},
"mark":{"type":"rule","color":"#222","strokeWidth":1},"encoding":{"y":{"field":"t","type":"quantitative","axis":null},"x":{"datum":0.5,"type":"quantitative","axis":null},"x2":{"datum":1.46}}},
{"data":{"values":[
{"tail":14.4,"head":9.13,"y":5.39,"dir":"left"},
{"tail":17.47,"head":12.58,"y":7.68,"dir":"left"},
{"tail":17.47,"head":14.88,"y":10.84,"dir":"left"},
{"tail":21.2,"head":17.95,"y":13.72,"dir":"left"},
{"tail":23.13,"head":20.35,"y":17.17,"dir":"left"},
{"tail":41.15,"head":37.22,"y":23.49,"dir":"left"},
{"tail":43.17,"head":39.04,"y":26.17,"dir":"left"},
{"tail":49.4,"head":43.93,"y":39.29,"dir":"left"},
{"tail":53.33,"head":48.92,"y":44.66,"dir":"left"},
{"tail":56.01,"head":51.99,"y":48.87,"dir":"left"},
{"tail":62.15,"head":57.93,"y":53.95,"dir":"left"},
{"tail":49.59,"head":55.0,"y":64.0,"dir":"right"},
{"tail":39.04,"head":50.93,"y":70.52,"dir":"right"},
{"tail":65.89,"head":70.78,"y":78.37,"dir":"right"},
{"tail":73.85,"head":79.6,"y":87.57,"dir":"right"}
]},
"layer":[
{"mark":{"type":"rule","color":"#111","strokeWidth":1.2},
"encoding":{"x":{"field":"tail","type":"quantitative","axis":null},"x2":{"field":"head"},"y":{"field":"y","type":"quantitative","axis":null}}},
{"mark":{"type":"point","filled":true,"color":"#000","opacity":1,"size":676},
"encoding":{"x":{"field":"head","type":"quantitative","axis":null},"y":{"field":"y","type":"quantitative","axis":null},
"shape":{"field":"dir","type":"nominal","scale":{"domain":["left","right"],"range":["M0,0L1,-0.36L1,0.36Z","M0,0L-1,-0.36L-1,0.36Z"]},"legend":null}}}
]},
{"data":{"values":[
{"x":15.55,"y":5.39,"t":"Leghemoglobins"},
{"x":18.72,"y":7.97,"t":"Allophycocyanins (a chain)"},
{"x":20.25,"y":10.75,"t":"Globins"},
{"x":22.46,"y":13.72,"t":"Allophycocyanins (b chain)"},
{"x":23.8,"y":17.45,"t":"Phycoerythrins (a chain)"},
{"x":42.11,"y":23.78,"t":"Truncated Hgs"},
{"x":44.99,"y":26.65,"t":"Hemoglobins, I"},
{"x":52.47,"y":39.48,"t":"Phycoerythrins (b chain)"},
{"x":56.49,"y":44.75,"t":"Hemoglobin, beta−chains"},
{"x":57.36,"y":48.97,"t":"Phycocyanins (a chain)"},
{"x":63.97,"y":53.85,"t":"Phycocyanins (b chain)"},
{"x":16.42,"y":64.39,"t":"Hemoglobin, alpha and beta chains"},
{"x":25.72,"y":70.52,"t":"Myoglobins"},
{"x":34.25,"y":78.47,"t":"Hemoglobin, alpha−chains"},
{"x":34.35,"y":87.19,"t":"Hemoglobin, beta−chains"}
]},
"mark":{"type":"text","align":"left","baseline":"middle","font":"Liberation Sans","fontSize":20.2,"color":"#111"},
"encoding":{"x":{"field":"x","type":"quantitative","axis":{"orient":"top","values":[10,20,30,40,50,60,70,80,90],"ticks":false,"labels":false,"title":null}},"y":{"field":"y","type":"quantitative","axis":null},"text":{"field":"t"}}}
]
}
